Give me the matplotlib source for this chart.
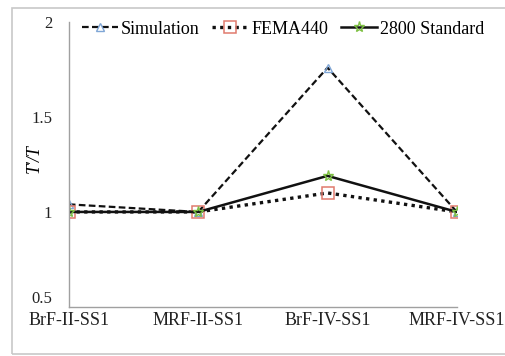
import matplotlib
matplotlib.use("Agg")
import matplotlib.pyplot as plt
from matplotlib.patches import Rectangle

categories = ["BrF-II-SS1", "MRF-II-SS1", "BrF-IV-SS1", "MRF-IV-SS1"]
simulation = [1.04, 1.0, 1.76, 1.0]
fema440 = [1.0, 1.0, 1.10, 1.0]
std2800 = [1.0, 1.0, 1.19, 1.0]
yticks = [0.5, 1, 1.5, 2]
ytick_labels = ["0.5", "1", "1.5", "2"]

plt.rcParams["font.family"] = ["Liberation Serif", "DejaVu Serif"]

fig = plt.figure(figsize=(5.06, 3.56), dpi=100)
ax = fig.add_axes([0.136, 0.138, 0.767, 0.800])

# outer chart frame (right edge runs off the picture)
fig.patches.append(Rectangle((12 / 506, 2 / 356), 1.2, 346 / 356,
                             transform=fig.transFigure, fill=False,
                             ec="#c8c8c8", lw=1.2))

x = list(range(len(categories)))
ax.plot(x, simulation, ls=(0, (3, 1.5)), color="#111111", lw=1.6,
        marker="^", ms=6, mfc="none", mec="#7fa6d6", mew=1.0, label="Simulation")
ax.plot(x, fema440, ls=(0, (1, 1.3)), color="#111111", lw=2.4,
        marker="s", ms=8, mfc="none", mec="#e07a6e", mew=1.1, label="FEMA440")
ax.plot(x, std2800, ls="-", color="#111111", lw=1.8,
        marker="*", ms=8, mfc="none", mec="#7dc042", mew=1.0, label="2800 Standard")

ax.set_xlim(0, 3)
ax.set_ylim(0.5, 2)
ax.set_xticks(x)
ax.set_xticklabels(categories, fontsize=13)
ax.set_yticks(yticks)
ax.set_yticklabels(ytick_labels, fontsize=12)
ax.tick_params(length=0, colors="#222222")
ax.tick_params(axis="x", pad=4)
ax.tick_params(axis="y", pad=12)
ax.get_yticklabels()[0].set_va("bottom")
ax.set_ylabel("T'/T", style="italic", fontsize=13)
ax.yaxis.set_label_coords(-0.068, 0.52)
for s in ("top", "right"):
    ax.spines[s].set_visible(False)
for s in ("left", "bottom"):
    ax.spines[s].set_color("#a0a0a0")
    ax.spines[s].set_linewidth(1.0)

fig.legend(loc="center", bbox_to_anchor=(283 / 506, 1 - 29 / 356), ncol=3,
           frameon=False, fontsize=13, handlelength=2.0, handletextpad=0.15,
           columnspacing=0.7)

fig.savefig("out.png", dpi=100, facecolor="white")
